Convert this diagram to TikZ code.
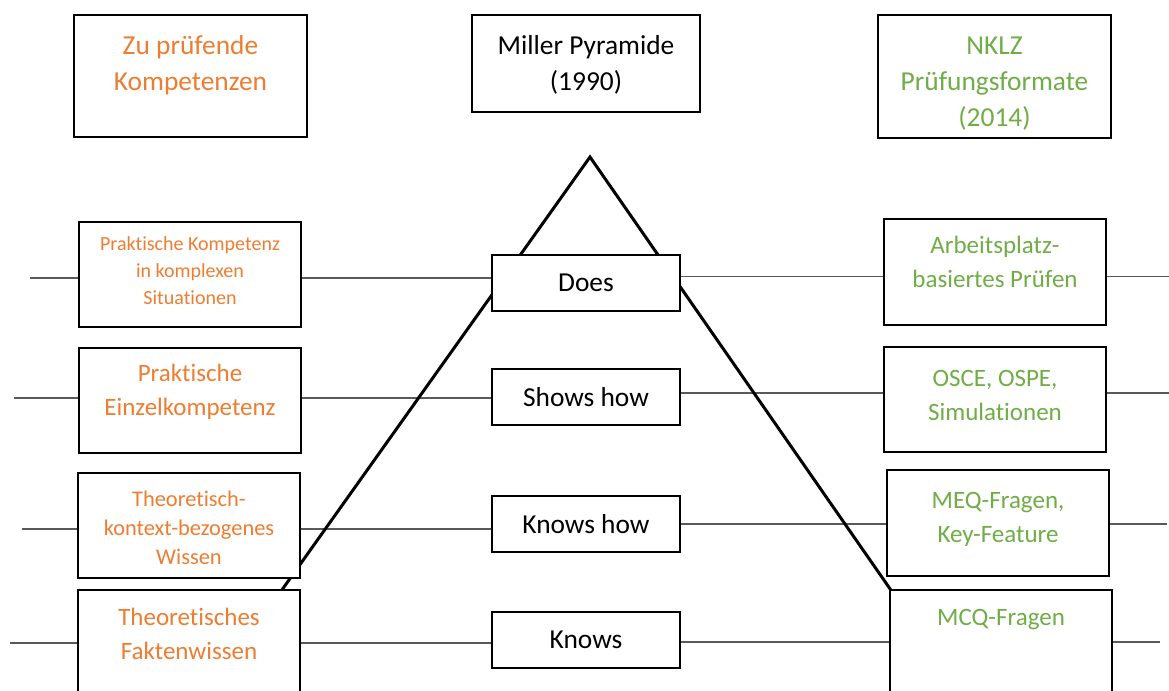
\documentclass[tikz,border=0pt]{standalone}
\usepackage{fontspec}
\setmainfont{Carlito}[Ligatures=NoCommon]
\usetikzlibrary{backgrounds}
\definecolor{kompOrange}{RGB}{237,125,49}
\definecolor{nklzGreen}{RGB}{112,173,71}
\tikzset{
  kasten/.style={draw=black, line width=1pt, fill=white, inner sep=0pt},
  linie/.style={draw=black!65, line width=0.6pt},
  gross/.style={font=\fontsize{13.7}{18}\selectfont, align=center},
  mittel/.style={font=\fontsize{12.5}{17}\selectfont, align=center},
}
\begin{document}
\begin{tikzpicture}[x=0.5pt, y=-0.5pt]
        \useasboundingbox (0,0) rectangle (1169,691);
        \clip (0,0) rectangle (1169,691);

        % Kopfzeile
        \node[kasten, minimum width=116.5pt, minimum height=61pt] (kopfL) at (190.5,76) {};
        \node[gross, text=kompOrange] (kopfLtxt) at (190.5,65) {Zu prüfende\\Kompetenzen};
        \node[kasten, minimum width=114pt, minimum height=48.5pt] (kopfM) at (586,63.5) {};
        \node[gross] (kopfMtxt) at (586,64.5) {Miller Pyramide\\(1990)};
        \node[kasten, minimum width=116.5pt, minimum height=61.5pt] (kopfR) at (994.5,76.5) {};
        \node[gross, text=nklzGreen] (kopfRtxt) at (994.5,83.5) {NKLZ\\Prüfungsformate\\(2014)};

        % Kompetenzen (links)
        \node[kasten, minimum width=111pt, minimum height=52.5pt] (komp1) at (190,274.5) {};
        \node[align=center, text=kompOrange, font=\fontsize{10}{13.5}\selectfont] (komp1txt) at (190,271) {Praktische Kompetenz\\in komplexen\\Situationen};
        \node[kasten, minimum width=111pt, minimum height=52.5pt] (komp2) at (190,400.5) {};
        \node[mittel, text=kompOrange] (komp2txt) at (190,391.5) {Praktische\\Einzelkompetenz};
        \node[kasten, minimum width=111pt, minimum height=52.5pt] (komp3) at (189,525.5) {};
        \node[align=center, text=kompOrange, font=\fontsize{11.2}{14.5}\selectfont] (komp3txt) at (189,528) {Theoretisch-\\kontext-bezogenes\\Wissen};
        \node[kasten, minimum width=111pt, minimum height=52.5pt] (komp4) at (189,642.5) {};
        \node[mittel, text=kompOrange] (komp4txt) at (189,633.5) {Theoretisches\\Faktenwissen};

        % Miller Pyramide (Mitte)
        \node[kasten, gross, minimum width=94pt, minimum height=28pt] (does) at (586,283) {\raisebox{-1.2pt}{Does}};
        \node[kasten, gross, minimum width=94pt, minimum height=28pt] (shows) at (586,397) {Shows how};
        \node[kasten, gross, minimum width=94pt, minimum height=28pt] (knowshow) at (586,524) {Knows how};
        \node[kasten, gross, minimum width=94pt, minimum height=28pt] (knows) at (586,640) {Knows};

        % Pruefungsformate (rechts)
        \node[kasten, minimum width=111pt, minimum height=53pt] (format1) at (995,272) {};
        \node[mittel, text=nklzGreen] (format1txt) at (995,261.5) {Arbeitsplatz-\\basiertes Prüfen};
        \node[kasten, minimum width=111pt, minimum height=52.5pt] (format2) at (995,399.5) {};
        \node[mittel, text=nklzGreen] (format2txt) at (995,395.5) {OSCE, OSPE,\\Simulationen};
        \node[kasten, minimum width=111pt, minimum height=53pt] (format3) at (998,523) {};
        \node[mittel, text=nklzGreen] (format3txt) at (998,519) {MEQ-Fragen,\\Key-Feature};
        \node[kasten, minimum width=111pt, minimum height=52.5pt] (format4) at (1001,642.5) {};
        \node[mittel, text=nklzGreen] (format4txt) at (1001,620) {MCQ-Fragen};

        \begin{pgfonlayer}{background}
        % Verbindungslinien
        \foreach \z/\m/\xa/\ya/\xe/\ye in {1/does/30/278/1169/276.5, 2/shows/14/398/1169/393, 3/knowshow/22/529/1167/524, 4/knows/10/643/1160/642} {
            \coordinate (links\z) at (\xa,\ya);
            \coordinate (rechts\z) at (\xe,\ye);
            \draw[linie] (links\z) -- (links\z -| komp\z.west);
            \draw[linie] (links\z -| komp\z.east) -- (links\z -| \m.west);
            \draw[linie] (rechts\z -| \m.east) -- (rechts\z -| format\z.west);
            \draw[linie] (rechts\z -| format\z.east) -- (rechts\z);
        }
        % Pyramide
        \coordinate (spitze) at (590,157);
        \coordinate (fussL) at (210,691);
        \coordinate (fussR) at (961,691);
        \draw[line width=1.5pt, line join=miter] (fussL) -- (spitze) -- (fussR);
        \end{pgfonlayer}
\end{tikzpicture}
\end{document}
